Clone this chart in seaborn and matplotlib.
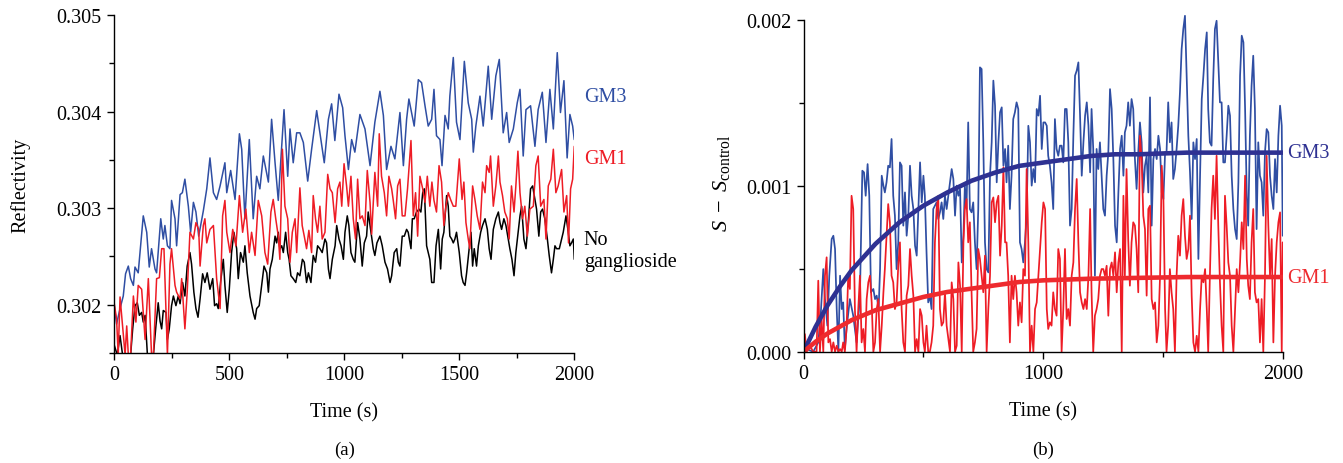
"""Reflectivity time courses (a) and ganglioside difference signal with fits (b)."""

import matplotlib

matplotlib.use("Agg")

import matplotlib.pyplot as plt
import seaborn as sns
from matplotlib.ticker import FormatStrFormatter, MultipleLocator

# ---------------------------------------------------------------------------
# Data: (time in s, value)
# ---------------------------------------------------------------------------

# panel (a): reflectivity
gm3_a = [
    (0, 0.30199), (10, 0.30180), (25, 0.30196), (39, 0.30209), (49, 0.30232), (61, 0.30240),
    (71, 0.30227), (83, 0.30220), (90, 0.30239), (104, 0.30233), (126, 0.30292), (141, 0.30275),
    (152, 0.30239), (162, 0.30258), (177, 0.30237), (184, 0.30233), (202, 0.30289), (213, 0.30268),
    (220, 0.30282), (231, 0.30261), (242, 0.30258), (249, 0.30308), (264, 0.30289), (271, 0.30261),
    (286, 0.30314), (296, 0.30316), (307, 0.30330), (322, 0.30302), (332, 0.30275), (344, 0.30306),
    (355, 0.30296), (367, 0.30271), (387, 0.30297), (402, 0.30320), (416, 0.30352), (431, 0.30316),
    (445, 0.30309), (460, 0.30323), (481, 0.30347), (489, 0.30316), (506, 0.30339), (525, 0.30309),
    (544, 0.30377), (554, 0.30361), (568, 0.30289), (587, 0.30371), (604, 0.30289), (619, 0.30333),
    (633, 0.30320), (648, 0.30354), (670, 0.30327), (684, 0.30392), (699, 0.30347), (713, 0.30308),
    (728, 0.30364), (738, 0.30402), (754, 0.30333), (764, 0.30382), (778, 0.30347), (793, 0.30378),
    (807, 0.30378), (822, 0.30368), (841, 0.30328), (858, 0.30361), (880, 0.30401), (894, 0.30378),
    (913, 0.30347), (931, 0.30392), (945, 0.30408), (959, 0.30370), (977, 0.30418), (993, 0.30404),
    (1003, 0.30375), (1018, 0.30340), (1032, 0.30371), (1046, 0.30358), (1068, 0.30397),
    (1090, 0.30382), (1112, 0.30344), (1133, 0.30389), (1155, 0.30421), (1170, 0.30396),
    (1184, 0.30340), (1203, 0.30364), (1220, 0.30351), (1242, 0.30399), (1257, 0.30344),
    (1271, 0.30392), (1281, 0.30413), (1304, 0.30385), (1322, 0.30433), (1336, 0.30430),
    (1351, 0.30406), (1365, 0.30385), (1380, 0.30392), (1390, 0.30423), (1401, 0.30375),
    (1416, 0.30371), (1425, 0.30344), (1438, 0.30396), (1452, 0.30382), (1459, 0.30416),
    (1474, 0.30456), (1488, 0.30389), (1503, 0.30371), (1522, 0.30452), (1539, 0.30409),
    (1554, 0.30392), (1561, 0.30358), (1572, 0.30385), (1590, 0.30416), (1604, 0.30385),
    (1626, 0.30447), (1641, 0.30392), (1659, 0.30437), (1674, 0.30454), (1691, 0.30378),
    (1706, 0.30399), (1717, 0.30368), (1735, 0.30382), (1752, 0.30409), (1764, 0.30423),
    (1778, 0.30354), (1790, 0.30402), (1810, 0.30406), (1829, 0.30364), (1843, 0.30402),
    (1861, 0.30420), (1877, 0.30368), (1894, 0.30423), (1909, 0.30382), (1926, 0.30461),
    (1940, 0.30399), (1955, 0.30432), (1969, 0.30352), (1981, 0.30397), (1993, 0.30385),
    (2000, 0.30371),
]

gm1_a = [
    (0, 0.30201), (10, 0.30185), (17, 0.30148), (25, 0.30208), (36, 0.30178), (47, 0.30148),
    (54, 0.30178), (61, 0.30148), (71, 0.30148), (83, 0.30209), (94, 0.30182), (104, 0.30220),
    (119, 0.30216), (134, 0.30164), (148, 0.30227), (162, 0.30148), (170, 0.30148), (184, 0.30227),
    (196, 0.30228), (206, 0.30258), (216, 0.30258), (231, 0.30148), (242, 0.30242), (249, 0.30258),
    (264, 0.30220), (271, 0.30213), (286, 0.30206), (293, 0.30227), (307, 0.30175), (317, 0.30213),
    (329, 0.30275), (344, 0.30268), (355, 0.30285), (367, 0.30278), (373, 0.30240), (387, 0.30282),
    (394, 0.30289), (402, 0.30264), (416, 0.30278), (431, 0.30282), (445, 0.30227), (460, 0.30196),
    (471, 0.30292), (481, 0.30308), (489, 0.30275), (503, 0.30254), (515, 0.30278), (529, 0.30261),
    (544, 0.30313), (558, 0.30275), (572, 0.30299), (587, 0.30254), (597, 0.30275), (612, 0.30251),
    (626, 0.30308), (641, 0.30292), (655, 0.30254), (667, 0.30242), (681, 0.30296), (691, 0.30309),
    (702, 0.30289), (713, 0.30271), (720, 0.30247), (731, 0.30361), (742, 0.30302), (754, 0.30289),
    (764, 0.30244), (774, 0.30275), (786, 0.30289), (793, 0.30254), (807, 0.30321), (817, 0.30282),
    (826, 0.30271), (836, 0.30258), (846, 0.30277), (858, 0.30254), (865, 0.30313), (875, 0.30289),
    (884, 0.30275), (894, 0.30302), (904, 0.30268), (916, 0.30275), (928, 0.30335), (938, 0.30320),
    (948, 0.30316), (960, 0.30285), (971, 0.30320), (981, 0.30327), (989, 0.30302), (999, 0.30346),
    (1010, 0.30323), (1018, 0.30302), (1029, 0.30333), (1039, 0.30289), (1049, 0.30268),
    (1058, 0.30330), (1068, 0.30289), (1078, 0.30292), (1090, 0.30282), (1100, 0.30339),
    (1112, 0.30306), (1119, 0.30273), (1133, 0.30337), (1145, 0.30302), (1152, 0.30377),
    (1162, 0.30333), (1174, 0.30316), (1184, 0.30292), (1194, 0.30333), (1206, 0.30320),
    (1213, 0.30308), (1223, 0.30289), (1232, 0.30323), (1242, 0.30330), (1252, 0.30292),
    (1264, 0.30292), (1275, 0.30320), (1290, 0.30370), (1300, 0.30292), (1310, 0.30316),
    (1319, 0.30271), (1329, 0.30333), (1341, 0.30320), (1351, 0.30306), (1361, 0.30333),
    (1372, 0.30302), (1381, 0.30327), (1390, 0.30308), (1401, 0.30296), (1412, 0.30344),
    (1423, 0.30327), (1433, 0.30282), (1442, 0.30302), (1452, 0.30316), (1462, 0.30309),
    (1474, 0.30302), (1485, 0.30302), (1500, 0.30351), (1512, 0.30309), (1520, 0.30327),
    (1529, 0.30285), (1539, 0.30268), (1546, 0.30258), (1558, 0.30323), (1568, 0.30309),
    (1578, 0.30292), (1590, 0.30278), (1601, 0.30327), (1612, 0.30316), (1619, 0.30344),
    (1630, 0.30337), (1636, 0.30354), (1648, 0.30302), (1659, 0.30323), (1670, 0.30354),
    (1677, 0.30327), (1688, 0.30313), (1698, 0.30296), (1709, 0.30289), (1717, 0.30268),
    (1727, 0.30323), (1738, 0.30296), (1746, 0.30323), (1755, 0.30359), (1764, 0.30316),
    (1775, 0.30289), (1785, 0.30302), (1796, 0.30271), (1807, 0.30299), (1822, 0.30302),
    (1833, 0.30344), (1843, 0.30354), (1854, 0.30302), (1868, 0.30309), (1877, 0.30268),
    (1887, 0.30323), (1898, 0.30330), (1909, 0.30361), (1920, 0.30316), (1930, 0.30323),
    (1945, 0.30340), (1955, 0.30296), (1967, 0.30313), (1975, 0.30264), (1984, 0.30320),
    (1993, 0.30330), (2000, 0.30364),
]

none_a = [
    (0, 0.30158), (13, 0.30148), (25, 0.30168), (36, 0.30148), (47, 0.30148), (61, 0.30148),
    (71, 0.30148), (80, 0.30175), (90, 0.30199), (100, 0.30202), (109, 0.30189), (119, 0.30192),
    (126, 0.30182), (134, 0.30189), (144, 0.30148), (152, 0.30148), (162, 0.30148), (170, 0.30148),
    (181, 0.30178), (191, 0.30202), (199, 0.30183), (206, 0.30175), (213, 0.30194), (225, 0.30192),
    (231, 0.30164), (239, 0.30175), (249, 0.30199), (257, 0.30209), (268, 0.30199), (278, 0.30209),
    (286, 0.30201), (297, 0.30223), (307, 0.30209), (317, 0.30240), (329, 0.30254), (336, 0.30242),
    (346, 0.30213), (355, 0.30196), (364, 0.30187), (373, 0.30206), (384, 0.30232), (394, 0.30223),
    (404, 0.30233), (416, 0.30216), (428, 0.30227), (436, 0.30199), (445, 0.30201), (452, 0.30196),
    (462, 0.30223), (474, 0.30247), (481, 0.30220), (491, 0.30192), (500, 0.30216), (510, 0.30254),
    (520, 0.30275), (532, 0.30258), (539, 0.30227), (549, 0.30254), (561, 0.30244), (568, 0.30261),
    (578, 0.30233), (590, 0.30209), (604, 0.30192), (612, 0.30185), (619, 0.30196), (630, 0.30199),
    (641, 0.30220), (651, 0.30240), (663, 0.30233), (670, 0.30213), (677, 0.30237), (687, 0.30247),
    (699, 0.30271), (706, 0.30264), (713, 0.30275), (720, 0.30258), (728, 0.30261), (735, 0.30254),
    (745, 0.30275), (754, 0.30254), (760, 0.30247), (768, 0.30230), (778, 0.30227), (789, 0.30223),
    (797, 0.30233), (807, 0.30230), (818, 0.30247), (826, 0.30244), (836, 0.30223), (844, 0.30233),
    (855, 0.30223), (865, 0.30251), (875, 0.30244), (884, 0.30261), (894, 0.30258), (904, 0.30254),
    (916, 0.30268), (923, 0.30264), (931, 0.30237), (938, 0.30227), (948, 0.30247), (960, 0.30261),
    (967, 0.30282), (977, 0.30268), (986, 0.30261), (996, 0.30247), (1003, 0.30275),
    (1013, 0.30292), (1020, 0.30282), (1029, 0.30254), (1039, 0.30247), (1046, 0.30244),
    (1058, 0.30285), (1068, 0.30268), (1078, 0.30240), (1087, 0.30264), (1097, 0.30271),
    (1104, 0.30296), (1116, 0.30275), (1126, 0.30258), (1133, 0.30251), (1142, 0.30264),
    (1155, 0.30271), (1165, 0.30261), (1177, 0.30244), (1188, 0.30237), (1199, 0.30223),
    (1206, 0.30230), (1217, 0.30254), (1228, 0.30258), (1235, 0.30244), (1242, 0.30240),
    (1252, 0.30271), (1261, 0.30271), (1271, 0.30278), (1278, 0.30275), (1290, 0.30258),
    (1296, 0.30289), (1304, 0.30289), (1314, 0.30296), (1325, 0.30299), (1333, 0.30296),
    (1341, 0.30316), (1348, 0.30320), (1358, 0.30261), (1365, 0.30254), (1372, 0.30247),
    (1380, 0.30223), (1390, 0.30223), (1399, 0.30261), (1409, 0.30278), (1419, 0.30237),
    (1426, 0.30268), (1433, 0.30275), (1445, 0.30313), (1452, 0.30302), (1459, 0.30271),
    (1467, 0.30268), (1474, 0.30264), (1481, 0.30268), (1488, 0.30275), (1500, 0.30254),
    (1510, 0.30230), (1517, 0.30223), (1525, 0.30220), (1532, 0.30233), (1543, 0.30258),
    (1551, 0.30275), (1558, 0.30240), (1565, 0.30258), (1575, 0.30240), (1583, 0.30261),
    (1593, 0.30275), (1601, 0.30282), (1612, 0.30289), (1622, 0.30278), (1630, 0.30258),
    (1638, 0.30247), (1648, 0.30278), (1659, 0.30289), (1670, 0.30296), (1677, 0.30285),
    (1684, 0.30278), (1694, 0.30289), (1703, 0.30282), (1713, 0.30268), (1720, 0.30258),
    (1729, 0.30247), (1738, 0.30230), (1746, 0.30254), (1756, 0.30275), (1764, 0.30292),
    (1771, 0.30302), (1781, 0.30268), (1790, 0.30258), (1800, 0.30285), (1810, 0.30320),
    (1819, 0.30323), (1829, 0.30309), (1836, 0.30299), (1846, 0.30271), (1854, 0.30296),
    (1862, 0.30299), (1872, 0.30289), (1883, 0.30268), (1891, 0.30251), (1901, 0.30233),
    (1909, 0.30247), (1916, 0.30261), (1923, 0.30258), (1935, 0.30258), (1945, 0.30268),
    (1952, 0.30275), (1964, 0.30292), (1974, 0.30275), (1981, 0.30261), (1988, 0.30264),
    (1996, 0.30268), (2000, 0.30247),
]

# panel (b): S - S_control
gm3_b = [
    (12, 0.000016), (40, 0.0), (61, 0.000056), (71, 0.000217), (82, 0.000498), (89, 0.000317),
    (99, 0.000157), (107, 0.000458), (117, 0.000679), (124, 0.000699), (131, 0.000619),
    (138, 0.000257), (145, 0.0), (152, 0.000458), (159, 0.000257), (165, 0.000297),
    (172, 0.000016), (179, 0.000137), (193, 0.000317), (207, 0.000217), (221, 0.000056),
    (235, 0.000338), (245, 0.001091), (252, 0.001081), (259, 0.000940), (267, 0.001131),
    (274, 0.000940), (281, 0.000358), (291, 0.000378), (298, 0.000317), (305, 0.000338),
    (313, 0.000257), (319, 0.000498), (326, 0.001061), (333, 0.001001), (339, 0.000960),
    (346, 0.001021), (353, 0.001121), (360, 0.001111), (367, 0.001282), (374, 0.000940),
    (381, 0.000820), (388, 0.000498), (395, 0.000659), (402, 0.001141), (409, 0.001121),
    (416, 0.000760), (423, 0.000960), (430, 0.000699), (437, 0.000820), (444, 0.001121),
    (451, 0.000940), (458, 0.000860), (465, 0.000639), (472, 0.000579), (479, 0.000860),
    (486, 0.001141), (493, 0.000900), (500, 0.001061), (506, 0.000940), (513, 0.000599),
    (520, 0.000297), (527, 0.000338), (534, 0.000257), (541, 0.000860), (548, 0.000880),
    (555, 0.000900), (562, 0.000800), (569, 0.000840), (576, 0.000900), (583, 0.000800),
    (590, 0.000940), (597, 0.000860), (611, 0.001021), (618, 0.001101), (625, 0.001041),
    (632, 0.000820), (639, 0.001001), (646, 0.000940), (653, 0.000981),
    (660, 0.000538), (667, 0.000699), (673, 0.001001), (680, 0.000860), (687, 0.001382),
    (694, 0.000860), (701, 0.000840), (708, 0.000900), (715, 0.000659), (722, 0.000498),
    (729, 0.000860), (736, 0.001714), (743, 0.001704), (750, 0.001262), (757, 0.000659),
    (764, 0.000498), (771, 0.000478), (778, 0.001061), (785, 0.001262), (792, 0.001634),
    (799, 0.001483), (806, 0.001021), (813, 0.001262), (820, 0.001443), (827, 0.001473),
    (834, 0.001121), (841, 0.001222), (847, 0.001021), (854, 0.001242), (861, 0.000860),
    (868, 0.001061), (875, 0.001402), (882, 0.001443), (889, 0.001503), (896, 0.001463),
    (903, 0.000659), (910, 0.000619), (917, 0.000538), (924, 0.000659), (931, 0.000820),
    (938, 0.001362), (945, 0.001262), (952, 0.001001), (959, 0.001101), (966, 0.001021),
    (973, 0.001463), (980, 0.001423), (987, 0.001543), (994, 0.001222), (1001, 0.001382),
    (1008, 0.001382), (1015, 0.001362), (1021, 0.001181), (1028, 0.001121), (1035, 0.001021),
    (1042, 0.000860), (1049, 0.001402), (1056, 0.001222), (1063, 0.001181), (1070, 0.001242),
    (1077, 0.001242), (1084, 0.001141), (1091, 0.001463), (1098, 0.001463), (1105, 0.001262),
    (1112, 0.000760), (1119, 0.000860), (1126, 0.001302), (1133, 0.001664), (1140, 0.001694),
    (1147, 0.001744), (1154, 0.001423), (1161, 0.001061), (1168, 0.001262), (1175, 0.001423),
    (1182, 0.001503), (1189, 0.001362), (1196, 0.001081), (1202, 0.001463), (1209, 0.001222),
    (1216, 0.000458), (1223, 0.001222), (1230, 0.001101), (1237, 0.001262), (1251, 0.000860),
    (1258, 0.000820), (1265, 0.001061), (1272, 0.001202), (1279, 0.001583), (1286, 0.001463),
    (1293, 0.001161), (1300, 0.000760), (1307, 0.000659), (1314, 0.000960),
    (1321, 0.001222), (1328, 0.001302), (1335, 0.001061), (1341, 0.001322), (1348, 0.001362),
    (1355, 0.001503), (1362, 0.001362), (1369, 0.001523), (1376, 0.001463), (1383, 0.001161),
    (1390, 0.000981), (1397, 0.001202), (1404, 0.001382), (1411, 0.001262), (1418, 0.000960),
    (1425, 0.001121), (1432, 0.001181), (1439, 0.000960), (1446, 0.001533), (1453, 0.000760),
    (1460, 0.001161), (1467, 0.001222), (1474, 0.001161), (1481, 0.001302), (1488, 0.001222),
    (1495, 0.000960), (1502, 0.000920), (1509, 0.001202), (1515, 0.001202), (1522, 0.001503),
    (1529, 0.001262), (1536, 0.001382), (1543, 0.001041), (1550, 0.001101), (1557, 0.001222),
    (1564, 0.001362), (1571, 0.001563), (1578, 0.001824), (1585, 0.001945), (1592, 0.002025),
    (1599, 0.001664), (1606, 0.001302), (1613, 0.001081), (1620, 0.000800), (1627, 0.001262),
    (1634, 0.001161), (1641, 0.001282), (1648, 0.000559), (1655, 0.001061), (1662, 0.001523),
    (1669, 0.001664), (1676, 0.001824), (1683, 0.001925), (1689, 0.001463), (1696, 0.001262),
    (1703, 0.001242), (1710, 0.001644), (1717, 0.001945), (1724, 0.001995), (1731, 0.001744),
    (1738, 0.001503), (1745, 0.001503), (1752, 0.001141), (1759, 0.001141), (1766, 0.001302),
    (1773, 0.001483), (1780, 0.001423), (1787, 0.001061), (1794, 0.000860), (1801, 0.000739),
    (1808, 0.000679), (1815, 0.001021), (1822, 0.001664), (1829, 0.001905), (1836, 0.001865),
    (1843, 0.001463), (1850, 0.000940), (1856, 0.000760), (1863, 0.001302), (1870, 0.001603),
    (1877, 0.001784), (1884, 0.001463), (1891, 0.000739), (1898, 0.001262), (1905, 0.001061),
    (1912, 0.001021), (1919, 0.000820), (1926, 0.001202), (1933, 0.001342), (1940, 0.001322),
    (1947, 0.001061), (1954, 0.000940), (1961, 0.000860), (1968, 0.001161), (1975, 0.000960),
    (1982, 0.001302), (1989, 0.001483), (1996, 0.001362), (2000, 0.000699),
]

gm1_b = [
    (5, 0.000106), (12, 0.0), (26, 0.000036), (40, 0.0), (54, 0.0), (61, 0.000428), (68, 0.0),
    (75, 0.000197), (82, 0.0), (89, 0.000458), (96, 0.000569), (103, 0.000056), (110, 0.000076),
    (117, 0.0), (124, 0.000056), (131, 0.0), (138, 0.000036), (145, 0.0), (152, 0.000016),
    (159, 0.0), (165, 0.000056), (172, 0.0), (179, 0.000137), (186, 0.000458), (193, 0.000378),
    (200, 0.000940), (207, 0.000860), (214, 0.000257), (221, 0.0), (228, 0.000257),
    (235, 0.000458), (242, 0.000056), (249, 0.000137), (256, 0.0), (263, 0.000317),
    (270, 0.000418), (277, 0.000458), (284, 0.000297), (291, 0.0), (298, 0.000056),
    (305, 0.000257), (312, 0.000317), (319, 0.0), (326, 0.000157), (333, 0.000358),
    (339, 0.000498), (346, 0.000699), (353, 0.000890), (360, 0.000780), (367, 0.000458),
    (374, 0.000418), (381, 0.000257), (388, 0.000297), (395, 0.000518), (402, 0.000659),
    (409, 0.000257), (416, 0.000056), (423, 0.0), (430, 0.000338), (437, 0.000398),
    (444, 0.000619), (451, 0.000458), (458, 0.000338), (465, 0.0), (472, 0.000076), (479, 0.0),
    (486, 0.000257), (493, 0.000217), (500, 0.000056), (506, 0.0), (513, 0.000157), (520, 0.0),
    (527, 0.0), (534, 0.000056), (541, 0.000157), (548, 0.000659), (555, 0.000860),
    (562, 0.000940), (569, 0.000257), (576, 0.000157), (583, 0.000177), (590, 0.000358),
    (597, 0.000157), (611, 0.0), (618, 0.000418), (625, 0.000317), (632, 0.0), (639, 0.000036),
    (646, 0.000538),
    (653, 0.000398), (660, 0.0), (667, 0.000659), (673, 0.000860), (680, 0.000920),
    (687, 0.000659), (694, 0.000780), (701, 0.000358), (708, 0.0), (715, 0.000056),
    (722, 0.000137), (729, 0.000619), (736, 0.000559), (743, 0.000458), (750, 0.000358),
    (757, 0.000579), (764, 0.0), (771, 0.000257), (778, 0.000458), (785, 0.000900),
    (792, 0.000930), (799, 0.000780), (806, 0.000900), (813, 0.000940), (820, 0.000579),
    (827, 0.000760), (834, 0.001111), (841, 0.000659), (847, 0.000659), (854, 0.000458),
    (861, 0.000056), (868, 0.000458), (875, 0.000317), (882, 0.000458), (889, 0.000358),
    (896, 0.000157), (903, 0.000297), (910, 0.000177), (917, 0.000498), (924, 0.000458),
    (931, 0.001101), (938, 0.000659), (945, 0.0), (952, 0.000157), (959, 0.0), (966, 0.000257),
    (973, 0.000297), (980, 0.000458), (987, 0.000619), (994, 0.000780), (1001, 0.000900),
    (1008, 0.000860), (1015, 0.000257), (1021, 0.000137), (1028, 0.000177), (1035, 0.000157),
    (1042, 0.000358), (1049, 0.000257), (1056, 0.000217), (1063, 0.000619), (1070, 0.000559),
    (1077, 0.0), (1084, 0.000257), (1091, 0.000619), (1098, 0.000197), (1105, 0.000257),
    (1112, 0.000157), (1119, 0.000458), (1126, 0.000538), (1133, 0.000860), (1140, 0.001041),
    (1147, 0.000659), (1154, 0.000358), (1161, 0.000297), (1168, 0.000257), (1175, 0.000317),
    (1182, 0.000257), (1189, 0.000458), (1196, 0.000860), (1202, 0.000358), (1209, 0.0),
    (1216, 0.000217), (1223, 0.000257), (1230, 0.000317), (1237, 0.000458), (1244, 0.000498),
    (1251, 0.000498), (1258, 0.000458), (1265, 0.000518), (1272, 0.000217), (1279, 0.000498),
    (1286, 0.000538), (1293, 0.000458), (1300, 0.000599), (1307, 0.000358), (1314, 0.000538),
    (1321, 0.000619), (1328, 0.0), (1335, 0.000940), (1341, 0.000458), (1348, 0.001101),
    (1355, 0.000679), (1362, 0.000398), (1369, 0.000659), (1376, 0.000780), (1383, 0.000760),
    (1390, 0.000619), (1397, 0.000358), (1404, 0.001302), (1411, 0.001161), (1418, 0.000820),
    (1425, 0.000739), (1432, 0.000338), (1439, 0.000860), (1446, 0.000880), (1453, 0.000317),
    (1460, 0.000257), (1467, 0.000297), (1474, 0.000056), (1481, 0.000157), (1488, 0.000458),
    (1495, 0.001121), (1502, 0.000920), (1509, 0.000257), (1515, 0.0), (1522, 0.000157),
    (1529, 0.000498), (1536, 0.000358), (1543, 0.000257), (1550, 0.0), (1557, 0.000458),
    (1564, 0.000699), (1571, 0.000579), (1578, 0.000820), (1585, 0.000920), (1592, 0.000699),
    (1599, 0.000559), (1606, 0.000619), (1613, 0.000820), (1620, 0.000338), (1627, 0.000056),
    (1634, 0.0), (1641, 0.000096), (1648, 0.0), (1655, 0.000257), (1662, 0.000458),
    (1669, 0.000418), (1676, 0.000498), (1683, 0.000257), (1689, 0.0), (1696, 0.000458),
    (1703, 0.000860), (1710, 0.001061), (1717, 0.000800), (1724, 0.001181), (1731, 0.000760),
    (1738, 0.000418), (1745, 0.000157), (1752, 0.0), (1759, 0.000940), (1766, 0.000760),
    (1773, 0.000538), (1780, 0.000458), (1787, 0.000157), (1794, 0.0), (1801, 0.000257),
    (1808, 0.000498), (1815, 0.000358), (1822, 0.000538), (1829, 0.000780), (1836, 0.000619),
    (1843, 0.001061), (1850, 0.000559), (1856, 0.000398), (1863, 0.000317), (1870, 0.000659),
    (1877, 0.000860), (1884, 0.000358), (1891, 0.000297), (1898, 0.000317), (1905, 0.000056),
    (1912, 0.000317), (1919, 0.0), (1926, 0.000458), (1933, 0.001181), (1940, 0.000760),
    (1947, 0.000458), (1954, 0.000679), (1961, 0.000056), (1968, 0.000458), (1975, 0.000659),
    (1982, 0.000780), (1989, 0.000840), (1996, 0.0), (2000, 0.000659),
]

# exponential fits drawn over the panel (b) data (read as points along the curves)
gm3_fit = [
    (0, 0.0), (50, 0.00015), (100, 0.00028), (150, 0.00039), (200, 0.00049), (300, 0.00065),
    (400, 0.00078), (500, 0.00088), (600, 0.00096), (700, 0.00103), (800, 0.00108),
    (900, 0.00112), (1000, 0.00114), (1100, 0.00116), (1200, 0.00118), (1300, 0.00119),
    (1400, 0.00119), (1600, 0.00120), (1800, 0.00120), (2000, 0.00120),
]
gm1_fit = [
    (0, 0.0), (50, 0.00006), (100, 0.00011), (150, 0.00015), (200, 0.00019), (300, 0.00025),
    (400, 0.00029), (500, 0.00033), (600, 0.00036), (700, 0.00038), (800, 0.00040),
    (900, 0.00042), (1000, 0.00043), (1200, 0.00044), (1400, 0.000445), (1600, 0.00045),
    (1800, 0.00045), (2000, 0.00045),
]

BLUE = "#2f4ea3"
RED = "#ee1c25"
NAVY = "#2e3192"
FIT_RED = "#ee2a2e"
FS = 14.5


def _line(ax, pairs, color, lw):
    t, v = zip(*pairs)
    sns.lineplot(x=list(t), y=list(v), ax=ax, color=color, linewidth=lw,
                 estimator=None, sort=False)


def _style_axis(ax):
    sns.despine(ax=ax)
    ax.tick_params(which="major", direction="out", length=5, width=1.0, labelsize=FS, pad=4)
    ax.tick_params(which="minor", direction="out", length=3.5, width=1.0)
    ax.set_xlim(0, 2000)
    ax.set_xlabel("Time (s)", fontsize=FS, labelpad=13)


sns.set_theme(style="ticks")
plt.rcParams.update({
    "font.family": ["Liberation Serif", "DejaVu Serif"],
    "mathtext.fontset": "custom",
    "mathtext.rm": "Liberation Serif",
    "mathtext.it": "Liberation Serif:italic",
    "axes.edgecolor": "black",
    "axes.labelcolor": "black",
    "axes.linewidth": 1.0,
    "text.color": "black",
    "xtick.color": "black",
    "ytick.color": "black",
})

fig = plt.figure(figsize=(13.43, 4.64), dpi=100)
ax_a = fig.add_axes([0.0851, 0.2371, 0.3425, 0.7284])
ax_b = fig.add_axes([0.5984, 0.2399, 0.3567, 0.7329])

# (a) reflectivity traces
_line(ax_a, none_a, "black", 1.1)
_line(ax_a, gm3_a, BLUE, 1.1)
_line(ax_a, gm1_a, RED, 1.1)
_style_axis(ax_a)
ax_a.set_ylim(0.3015, 0.305)
ax_a.xaxis.set_major_locator(MultipleLocator(500))
ax_a.xaxis.set_minor_locator(MultipleLocator(250))
ax_a.yaxis.set_major_locator(MultipleLocator(0.001))
ax_a.yaxis.set_minor_locator(MultipleLocator(0.0005))
ax_a.yaxis.set_major_formatter(FormatStrFormatter("%.3f"))
ax_a.set_ylabel("Reflectivity", fontsize=FS, labelpad=19)
ax_a.text(2042, 0.30416, "GM3", color=BLUE, fontsize=FS, va="center", clip_on=False)
ax_a.text(2042, 0.30351, "GM1", color=RED, fontsize=FS, va="center", clip_on=False)
ax_a.text(2042, 0.30256, "No\nganglioside", color="black", fontsize=FS, va="center",
          clip_on=False)

# (b) difference signal with fits
_line(ax_b, gm3_b, BLUE, 1.25)
_line(ax_b, gm1_b, RED, 1.25)
_line(ax_b, gm3_fit, NAVY, 3.3)
_line(ax_b, gm1_fit, FIT_RED, 3.3)
_style_axis(ax_b)
ax_b.set_ylim(0, 0.00205)
ax_b.spines["left"].set_bounds(0, 0.002)
ax_b.xaxis.set_major_locator(MultipleLocator(1000))
ax_b.xaxis.set_minor_locator(MultipleLocator(500))
ax_b.yaxis.set_major_locator(MultipleLocator(0.001))
ax_b.yaxis.set_minor_locator(MultipleLocator(0.0005))
ax_b.yaxis.set_major_formatter(FormatStrFormatter("%.3f"))
ax_b.set_ylabel(r"$S\ -\ S_{\mathrm{control}}$", fontsize=16, labelpad=10)
ax_b.text(2018, 0.00120, "GM3", color=NAVY, fontsize=FS, va="center", clip_on=False)
ax_b.text(2018, 0.00045, "GM1", color=FIT_RED, fontsize=FS, va="center", clip_on=False)

fig.text(0.2564, 0.030, "(a)", ha="center", va="center", fontsize=13.5)
fig.text(0.7767, 0.030, "(b)", ha="center", va="center", fontsize=13.5)

fig.savefig("out.png", dpi=100)
plt.close(fig)
